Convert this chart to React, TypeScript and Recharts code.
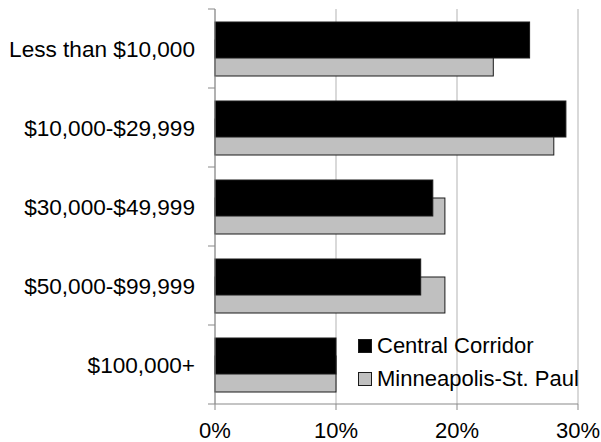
import React from 'react';
import { BarChart, Bar, XAxis, YAxis, CartesianGrid, Legend } from 'recharts';

const categories = ['Less than $10,000', '$10,000-$29,999', '$30,000-$49,999', '$50,000-$99,999', '$100,000+'];
const centralCorridor = [26, 29, 18, 17, 10];
const minneapolisStPaul = [23, 28, 19, 19, 10];
const xTicks = [0, 10, 20, 30];
const seriesNames = ['Central Corridor', 'Minneapolis-St. Paul'];
const seriesColors = ['#000000', '#c0c0c0'];

const data = categories.map((c, i) => ({ cat: c, cc: centralCorridor[i], msp: minneapolisStPaul[i] }));

const FONT = '"Liberation Sans", Arial, sans-serif';
const AXIS = '#898989';
const Y_MARGIN = 20;
const EDGE_TICK = 7;

const makeShape = (shift: number) => (props: any) => {
  const { x, y, width, height, fill } = props;
  if (!width || width <= 0) return null;
  return <rect x={x} y={y + shift} width={width} height={height} fill={fill} stroke="#1a1a1a" strokeWidth={1} />;
};

const YTick = (props: any) => {
  const { x, y, payload, index, visibleTicksCount } = props;
  const axisX = x + Y_MARGIN;
  const off = payload && typeof payload.offset === 'number' ? payload.offset : 0;
  const last = index === (visibleTicksCount ?? categories.length) - 1;
  return (
    <g>
      <text x={x} y={y} dy="0.355em" textAnchor="end" fill="#000" fontSize={22.6} fontFamily={FONT}>
        {payload.value}
      </text>
      {off > 0 && <line x1={axisX - EDGE_TICK} x2={axisX} y1={y - off} y2={y - off} stroke={AXIS} />}
      {off > 0 && last && <line x1={axisX - EDGE_TICK} x2={axisX} y1={y + off} y2={y + off} stroke={AXIS} />}
    </g>
  );
};

const LegendContent = () => (
  <div style={{ fontFamily: FONT, fontSize: 22, color: '#000' }}>
    {seriesNames.map((n, i) => (
      <div key={n} style={{ display: 'flex', alignItems: 'center', height: 33, whiteSpace: 'nowrap' }}>
        <span style={{ display: 'inline-block', width: 12, height: 12, background: seriesColors[i], border: '1px solid #1a1a1a', marginRight: 5 }} />
        <span>{n}</span>
      </div>
    ))}
  </div>
);

export default function App() {
  return (
    <div style={{ position: 'absolute', left: 0, top: 0, width: 601, height: 442, background: '#fff', fontFamily: FONT }}>
      <BarChart
        width={601}
        height={442}
        data={data}
        layout="vertical"
        margin={{ top: 9, right: 23, bottom: 8, left: 0 }}
        barGap={-36}
        barCategoryGap={0}
      >
        <CartesianGrid horizontal={false} stroke="#d9d9d9" strokeWidth={2} />
        <XAxis
          type="number"
          domain={[0, 30]}
          ticks={xTicks}
          tickFormatter={(v: number) => `${v}%`}
          stroke={AXIS}
          tickSize={6}
          tickMargin={12}
          tick={{ fill: '#000', fontSize: 22, fontFamily: FONT }}
          height={30}
          interval={0}
        />
        <YAxis
          type="category"
          dataKey="cat"
          width={215}
          tickLine={false}
          tickSize={0}
          tickMargin={Y_MARGIN}
          stroke={AXIS}
          tick={<YTick />}
          interval={0}
        />
        <Bar dataKey="msp" name={seriesNames[1]} fill={seriesColors[1]} barSize={36} shape={makeShape(9)} isAnimationActive={false} />
        <Bar dataKey="cc" name={seriesNames[0]} fill={seriesColors[0]} barSize={36} shape={makeShape(-9)} isAnimationActive={false} />
        <Legend
          layout="horizontal"
          verticalAlign="middle"
          align="center"
          content={() => <LegendContent />}
          wrapperStyle={{ position: 'absolute', left: 358, top: 329.5, width: 'auto' }}
        />
      </BarChart>
    </div>
  );
}
